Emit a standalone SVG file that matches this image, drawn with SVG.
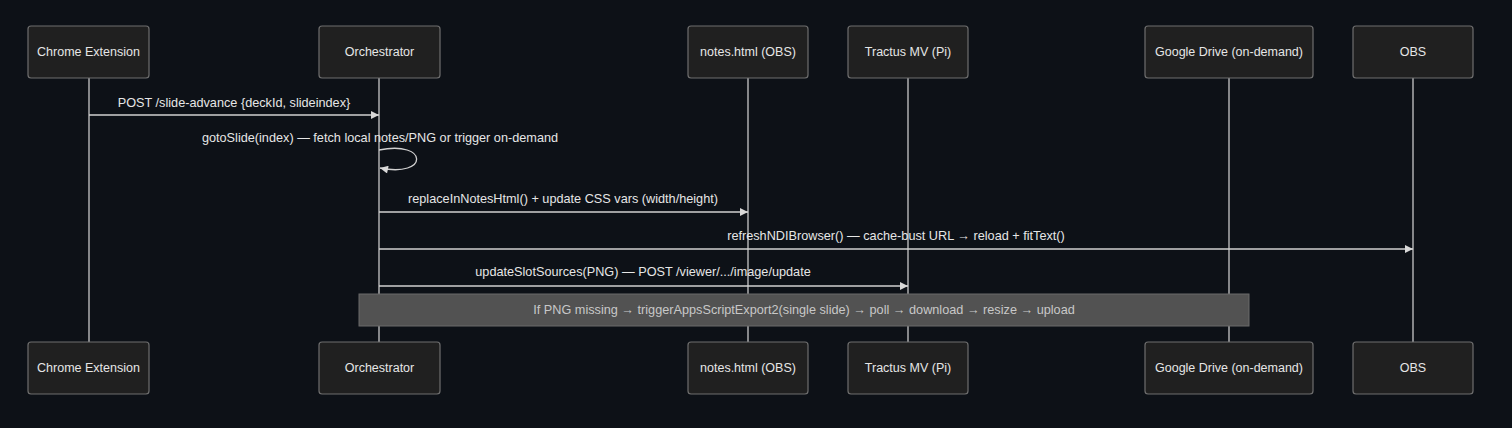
<svg xmlns="http://www.w3.org/2000/svg" width="1512" height="428" viewBox="0 0 1512 428">
<style>
.bg{fill:#0d1117}
.actor{fill:#202020;stroke:#6e6e6e;stroke-width:1.2}
.atext{font-family:"Liberation Sans",Arial,sans-serif;font-size:12.5px;fill:#e6e6e6;text-anchor:middle;dominant-baseline:central}
.life{stroke:#c8c8c8;stroke-width:1.3;fill:none}
.msg{stroke:#d0d0d0;stroke-width:1.3;fill:none}
.mtext{font-family:"Liberation Sans",Arial,sans-serif;font-size:12.7px;fill:#e6e6e6;text-anchor:middle}
.note{fill:#525252;stroke:#6a6a6a;stroke-width:1}
.ntext{font-family:"Liberation Sans",Arial,sans-serif;font-size:12.7px;fill:#c8c8c8;text-anchor:middle;dominant-baseline:central}
</style>
<defs>
<marker id="arrow" viewBox="0 0 10 10" refX="10" refY="5" markerWidth="10" markerHeight="8" markerUnits="userSpaceOnUse" orient="auto">
<path d="M0,0 L10,5 L0,10 z" fill="#d8d8d8"/>
</marker>
</defs>
<rect class="bg" x="0" y="0" width="1512" height="428"/>
<g id="lifelines">
<line class="life" x1="89" y1="78" x2="89" y2="342"/>
<line class="life" x1="379" y1="78" x2="379" y2="342"/>
<line class="life" x1="748" y1="78" x2="748" y2="342"/>
<line class="life" x1="908" y1="78" x2="908" y2="342"/>
<line class="life" x1="1229" y1="78" x2="1229" y2="342"/>
<line class="life" x1="1413" y1="78" x2="1413" y2="342"/>
</g>
<g id="connectors">
<line class="msg" x1="89" y1="115" x2="379" y2="115" marker-end="url(#arrow)"/>
<text class="mtext" x="234" y="107">POST /slide-advance {deckId, slideindex}</text>
<path class="msg" d="M379,150 C429,140 429,178 380,168" marker-end="url(#arrow)"/>
<text class="mtext" x="380" y="142">gotoSlide(index) — fetch local notes/PNG or trigger on-demand</text>
<line class="msg" x1="379" y1="212" x2="748" y2="212" marker-end="url(#arrow)"/>
<text class="mtext" x="563" y="203">replaceInNotesHtml() + update CSS vars (width/height)</text>
<line class="msg" x1="379" y1="249" x2="1413" y2="249" marker-end="url(#arrow)"/>
<text class="mtext" x="896" y="240">refreshNDIBrowser() — cache-bust URL → reload + fitText()</text>
<line class="msg" x1="379" y1="286" x2="908" y2="286" marker-end="url(#arrow)"/>
<text class="mtext" x="643" y="276">updateSlotSources(PNG) — POST /viewer/.../image/update</text>
</g>
<g id="note">
<rect class="note" x="359" y="294" width="890" height="32"/>
<text class="ntext" x="804" y="310">If PNG missing → triggerAppsScriptExport2(single slide) → poll → download → resize → upload</text>
</g>
<g id="chrome-top"><rect class="actor" x="28" y="26" width="121" height="52" rx="3"/><text class="atext" x="88.5" y="52">Chrome Extension</text></g>
<g id="orch-top"><rect class="actor" x="319" y="26" width="121" height="52" rx="3"/><text class="atext" x="379.5" y="52">Orchestrator</text></g>
<g id="notes-top"><rect class="actor" x="688" y="26" width="120" height="52" rx="3"/><text class="atext" x="748" y="52">notes.html (OBS)</text></g>
<g id="tractus-top"><rect class="actor" x="848" y="26" width="120" height="52" rx="3"/><text class="atext" x="908" y="52">Tractus MV (Pi)</text></g>
<g id="gdrive-top"><rect class="actor" x="1145" y="26" width="168" height="52" rx="3"/><text class="atext" x="1229" y="52">Google Drive (on-demand)</text></g>
<g id="obs-top"><rect class="actor" x="1353" y="26" width="120" height="52" rx="3"/><text class="atext" x="1413" y="52">OBS</text></g>
<g id="chrome-bottom"><rect class="actor" x="28" y="342" width="121" height="52" rx="3"/><text class="atext" x="88.5" y="368">Chrome Extension</text></g>
<g id="orch-bottom"><rect class="actor" x="319" y="342" width="121" height="52" rx="3"/><text class="atext" x="379.5" y="368">Orchestrator</text></g>
<g id="notes-bottom"><rect class="actor" x="688" y="342" width="120" height="52" rx="3"/><text class="atext" x="748" y="368">notes.html (OBS)</text></g>
<g id="tractus-bottom"><rect class="actor" x="848" y="342" width="120" height="52" rx="3"/><text class="atext" x="908" y="368">Tractus MV (Pi)</text></g>
<g id="gdrive-bottom"><rect class="actor" x="1145" y="342" width="168" height="52" rx="3"/><text class="atext" x="1229" y="368">Google Drive (on-demand)</text></g>
<g id="obs-bottom"><rect class="actor" x="1353" y="342" width="120" height="52" rx="3"/><text class="atext" x="1413" y="368">OBS</text></g>
</svg>
